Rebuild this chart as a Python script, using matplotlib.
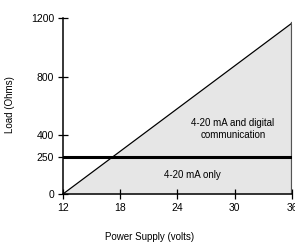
import matplotlib
matplotlib.use('Agg')
import matplotlib.pyplot as plt

plt.rcParams['font.family'] = ['Liberation Sans Narrow', 'Liberation Sans', 'DejaVu Sans']

supply = [12, 36]
load_max = [0, 1165]
hart_min = 250
xticks = [12, 18, 24, 30, 36]
yticks = [0, 250, 400, 800, 1200]

fig = plt.figure(figsize=(2.95, 2.44), dpi=100)
ax = fig.add_axes([0.2136, 0.205, 0.776, 0.7213])

ax.fill_between(supply, [0, 0], load_max, color='#e6e6e6', lw=0)
ax.plot(supply, load_max, color='black', lw=0.9)
ax.plot([supply[1], supply[1]], [0, load_max[1]], color='#555555', lw=1.6)
ax.plot(supply, [hart_min, hart_min], color='black', lw=2.2)

ax.text(29.8, 445, '4-20 mA and digital\ncommunication', ha='center', va='center',
        fontsize=7, linespacing=1.3)
ax.text(25.6, 128, '4-20 mA only', ha='center', va='center', fontsize=7)

ax.set_xlim(12, 36)
ax.set_ylim(0, 1200)
ax.set_xticks(xticks)
ax.set_yticks(yticks)
ax.tick_params(direction='inout', length=7, width=0.9, labelsize=7.5, pad=3)
for s in ['top', 'right']:
    ax.spines[s].set_visible(False)
for s in ['left', 'bottom']:
    ax.spines[s].set_linewidth(1.1)
ax.patch.set_alpha(0)

fig.text(0.508, 0.03, 'Power Supply (volts)', ha='center', va='center', fontsize=7)
fig.text(0.034, 0.57, 'Load (Ohms)', ha='center', va='center', rotation=90, fontsize=7)

fig.savefig('out.png', dpi=100)
